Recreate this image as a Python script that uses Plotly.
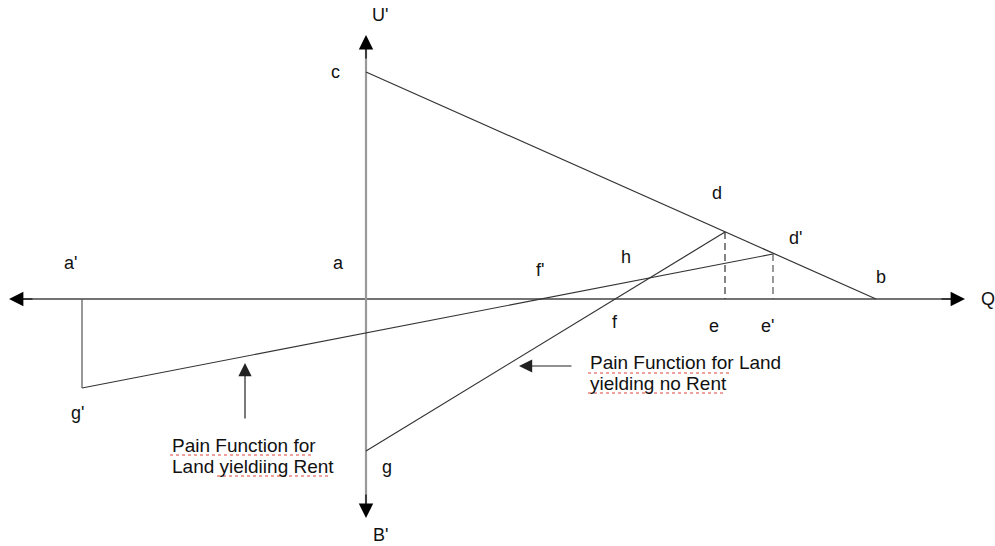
import plotly.graph_objects as go

# ---- Diagram data (origin at point a, x = quantity Q, y = utility U' / pain B') ----
axis_q_left, axis_q_right = -357, 599      # horizontal axis tips
axis_u_top, axis_u_bottom = 264, -219      # vertical axis tips

point_c = (0, 227)
point_b = (510, 0)
point_d = (359, 67)
point_d2 = (407, 45)      # d'
point_e = (359, 0)
point_e2 = (407, 0)       # e'
point_g = (0, -152)
point_g2 = (-284, -89)    # g'
point_a2 = (-284, 0)      # a'

label_text = ["U'", "c", "a", "a'", "d", "d'", "h", "f'", "b", "Q", "f", "e", "e'", "g'", "g", "B'"]
label_x = [14, -31, -28, -296, 351, 429, 260, 174, 515, 622, 249, 348, 401, -289, 21, 14]
label_y = [284, 227, 36, 36, 106, 61, 42, 29, 22, 0, -23, -27, -27, -114, -168, -236]

note1_lines = ["Pain Function for", "Land yieldiing Rent"]
note1_x, note1_y = -196, [-146, -167]
note1_arrow = ((-121, -121), (-121, -64))   # tail, tip
note2_lines = ["Pain Function for Land", "yielding no Rent"]
note2_x, note2_y = 222, [-63, -84]
note2_arrow = ((207, -67), (153, -67))

# spell-check underline spans (x0, x1, y)
squiggles = [(-196, -53, -156), (-149, -38, -177), (222, 366, -74), (222, 357, -94)]

LINE = "#333333"
FONT = "Liberation Sans, Arial, sans-serif"

fig = go.Figure()

def seg(p, q, color=LINE, width=1.2, dash="solid"):
    fig.add_trace(go.Scatter(x=[p[0], q[0]], y=[p[1], q[1]], mode="lines",
                             line=dict(color=color, width=width, dash=dash),
                             hoverinfo="skip", showlegend=False))

# axes
seg((axis_q_left + 10, 0), (axis_q_right - 10, 0), color="#444444", width=1.6)
seg((0, axis_u_bottom + 10), (0, axis_u_top - 10), color="#999999", width=2.2)

# curves
seg(point_c, point_b)
seg(point_g, point_d)
seg(point_g2, point_d2)
seg(point_a2, point_g2, color="#555555")
seg(point_d, point_e, color="#333333", dash="7px,4px")
seg(point_d2, point_e2, color="#555555", dash="7px,4px")

# spell-check squiggles
for x0, x1, y in squiggles:
    fig.add_trace(go.Scatter(x=[x0, x1], y=[y, y], mode="lines",
                             line=dict(color="#e0403a", width=1, dash="dot"),
                             hoverinfo="skip", showlegend=False))

ann = []
def arrow(tail, tip, size=1.6, width=1.2, color="black"):
    ann.append(dict(x=tip[0], y=tip[1], ax=tail[0], ay=tail[1], xref="x", yref="y",
                    axref="x", ayref="y", text="", showarrow=True, arrowhead=2,
                    arrowsize=size, arrowwidth=width, arrowcolor=color, standoff=0))

arrow((axis_q_left + 25, 0), (axis_q_left, 0), size=2.4)
arrow((axis_q_right - 25, 0), (axis_q_right, 0), size=2.4)
arrow((0, axis_u_top - 25), (0, axis_u_top), size=2.4)
arrow((0, axis_u_bottom + 25), (0, axis_u_bottom), size=2.4)
arrow(note1_arrow[0], note1_arrow[1], size=2.2, width=1.2, color="#222")
arrow(note2_arrow[0], note2_arrow[1], size=2.2, width=1.2, color="#222")

for t, x, y in zip(label_text, label_x, label_y):
    ann.append(dict(x=x, y=y, xref="x", yref="y", text=t, showarrow=False,
                    font=dict(family=FONT, size=18, color="#111111")))

for t, y in zip(note1_lines, note1_y):
    ann.append(dict(x=note1_x, y=y, xref="x", yref="y", text=t, showarrow=False,
                    xanchor="left", font=dict(family=FONT, size=19, color="#111111")))
for t, y in zip(note2_lines, note2_y):
    ann.append(dict(x=note2_x, y=y, xref="x", yref="y", text=t, showarrow=False,
                    xanchor="left", font=dict(family=FONT, size=19, color="#111111")))

fig.update_layout(
    width=995, height=546,
    margin=dict(l=0, r=0, t=0, b=0),
    paper_bgcolor="white", plot_bgcolor="white",
    xaxis=dict(range=[-366, 629], visible=False, fixedrange=True),
    yaxis=dict(range=[-247, 299], visible=False, fixedrange=True),
    annotations=ann,
    showlegend=False,
)

fig.write_html("out.html", config={"displayModeBar": False},
               post_script="document.body.style.margin='0';document.body.style.overflow='hidden';")
